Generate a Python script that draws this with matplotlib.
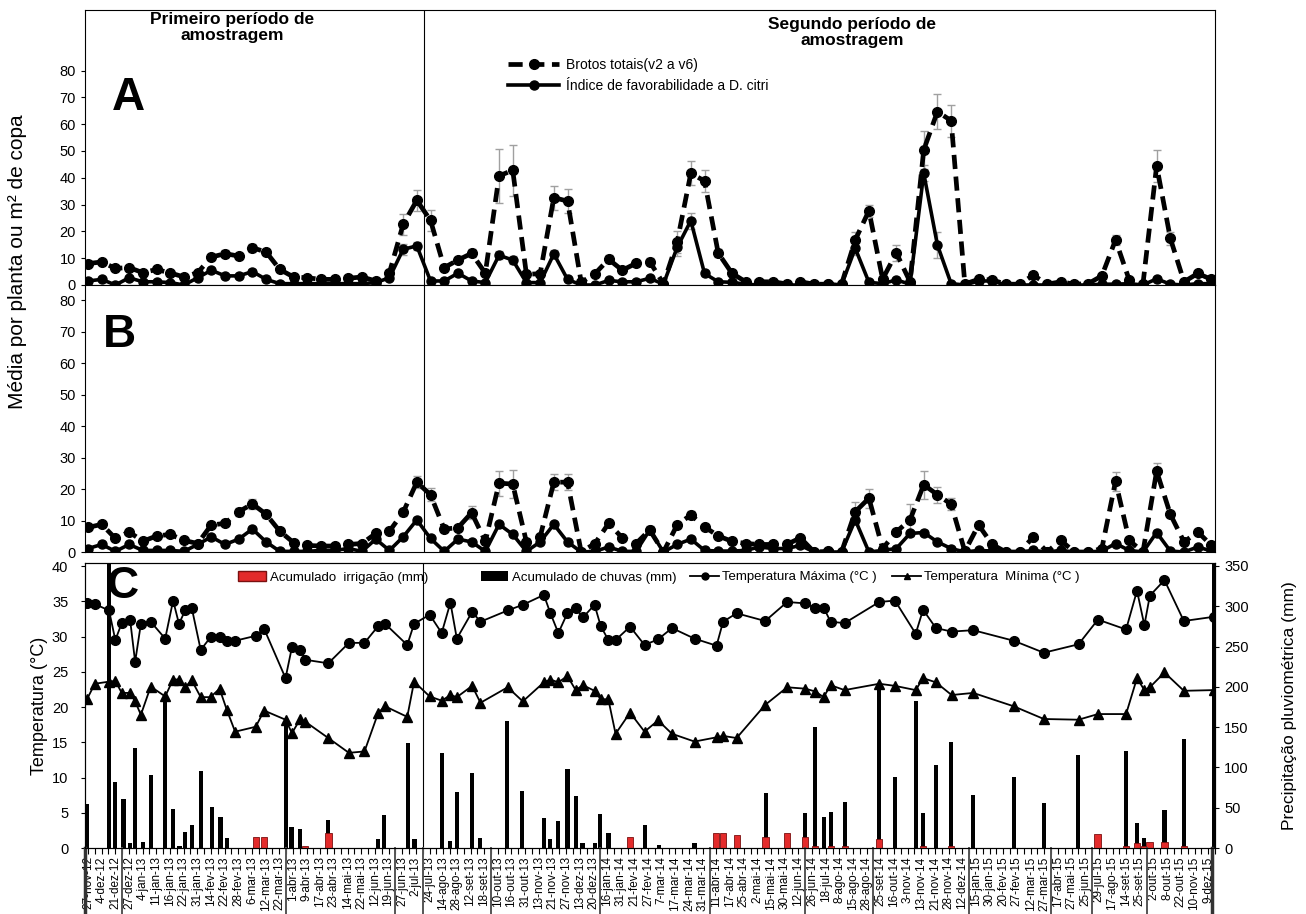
import matplotlib
matplotlib.use("Agg")
import matplotlib.pyplot as plt
import matplotlib.transforms as mtransforms
from matplotlib.patches import Patch
from matplotlib.lines import Line2D
import numpy as np

plt.rcParams['font.family'] = ['Liberation Sans', 'DejaVu Sans']

# Sampling dates (x axis labels)
dates = [
    "27-nov-12", "4-dez-12", "21-dez-12", "27-dez-12", "4-jan-13", "11-jan-13", "16-jan-13",
    "22-jan-13", "31-jan-13", "14-fev-13", "22-fev-13", "28-fev-13", "6-mar-13", "12-mar-13",
    "22-mar-13", "1-abr-13", "9-abr-13", "17-abr-13", "23-abr-13", "14-mai-13", "22-mai-13",
    "12-jun-13", "19-jun-13", "27-jun-13", "2-jul-13", "24-jul-13", "14-ago-13", "28-ago-13",
    "12-set-13", "18-set-13", "10-out-13", "16-out-13", "31-out-13", "13-nov-13", "21-nov-13",
    "27-nov-13", "13-dez-13", "20-dez-13", "16-jan-14", "31-jan-14", "21-fev-14", "27-fev-14",
    "7-mar-14", "17-mar-14", "24-mar-14", "31-mar-14", "11-abr-14", "17-abr-14", "25-abr-14",
    "2-mai-14", "15-mai-14", "30-mai-14", "12-jun-14", "26-jun-14", "18-jul-14", "8-ago-14",
    "15-ago-14", "28-ago-14", "25-set-14", "16-out-14", "3-nov-14", "13-nov-14", "21-nov-14",
    "28-nov-14", "12-dez-14", "15-jan-15", "30-jan-15", "20-fev-15", "27-fev-15", "12-mar-15",
    "27-mar-15", "17-abr-15", "27-mai-15", "25-jun-15", "29-jul-15", "17-ago-15", "14-set-15",
    "25-set-15", "2-out-15", "8-out-15", "22-out-15", "10-nov-15", "9-dez-15",
]

# Panel A
a_brotos = [8.0, 8.6, 6.2, 6.5, 4.6, 5.8, 4.5, 3.0, 4.6, 10.4,
            11.7, 10.8, 13.9, 12.3, 5.8, 3.0, 2.7, 2.1, 2.1, 2.5,
            3.0, 1.5, 4.6, 22.6, 31.6, 24.1, 6.5, 9.3, 11.8, 4.4,
            40.7, 42.8, 4.0, 4.2, 32.6, 31.3, 1.0, 4.2, 9.6, 5.5,
            8.1, 8.7, 0.5, 16.0, 41.7, 38.8, 11.9, 4.4, 1.2, 1.2,
            1.2, 0.4, 1.2, 0.3, 0.3, 0.3, 16.8, 27.7, 2.2, 12.0,
            1.2, 50.4, 64.7, 61.3, 0.4, 2.1, 1.9, 0.3, 0.3, 3.7,
            0.3, 1.2, 0.3, 0.5, 3.4, 16.8, 1.9, 0.3, 44.5, 17.4,
            1.2, 4.3, 2.1]
a_brotos_err = [0.8, 0.8, 0.6, 0.6, 0.6, 0.6, 0.5, 0.5, 0.6, 1.2,
                1.2, 1.2, 1.5, 1.2, 0.8, 0.5, 0.5, 0.5, 0.5, 0.5,
                0.5, 0.4, 1.0, 4.0, 4.0, 4.0, 1.0, 1.2, 1.5, 0.8,
                10.0, 9.5, 0.8, 0.8, 4.5, 4.5, 0.3, 0.8, 1.5, 0.8,
                1.0, 1.3, 0.2, 4.0, 4.5, 4.0, 1.5, 0.8, 0.4, 0.4,
                0.4, 0.2, 0.4, 0.2, 0.2, 0.2, 3.0, 2.3, 0.6, 3.0,
                0.4, 7.0, 6.5, 6.0, 0.2, 0.6, 0.6, 0.2, 0.2, 1.0,
                0.2, 0.4, 0.2, 0.2, 0.8, 2.0, 0.6, 0.2, 6.0, 2.5,
                0.4, 1.0, 0.6]
a_indice = [1.5, 2.1, 0.0, 2.7, 1.2, 1.2, 0.9, 0.0, 2.7, 5.5,
            3.4, 3.4, 5.0, 2.1, 0.5, 0.5, 0.5, 0.5, 0.5, 0.5,
            0.5, 0.9, 2.7, 13.3, 14.6, 1.5, 1.5, 4.4, 1.5, 0.9,
            11.1, 9.3, 0.9, 0.9, 11.6, 2.1, 0.0, 0.0, 1.7, 1.2,
            1.2, 2.5, 0.3, 14.0, 24.0, 4.3, 1.2, 1.0, 0.3, 0.0,
            0.0, 0.0, 0.0, 0.0, 0.5, 0.0, 13.7, 1.0, 0.5, 1.9,
            0.3, 41.7, 14.9, 0.5, 0.0, 1.5, 1.5, 0.0, 0.0, 0.0,
            0.0, 0.0, 0.0, 0.0, 0.3, 0.3, 0.5, 0.0, 2.3, 0.3,
            0.0, 0.5, 0.5]
a_indice_err = [0.4, 0.4, 0.1, 0.5, 0.3, 0.3, 0.3, 0.1, 0.5, 0.8,
                0.6, 0.6, 0.8, 0.5, 0.2, 0.2, 0.2, 0.2, 0.2, 0.2,
                0.2, 0.3, 0.5, 2.0, 1.5, 0.4, 0.4, 0.8, 0.4, 0.3,
                1.5, 1.5, 0.3, 0.3, 1.5, 0.5, 0.1, 0.1, 0.4, 0.3,
                0.3, 0.5, 0.1, 3.0, 3.0, 0.8, 0.3, 0.3, 0.1, 0.1,
                0.1, 0.1, 0.1, 0.1, 0.2, 0.1, 2.5, 0.3, 0.2, 0.5,
                0.1, 3.0, 5.0, 0.2, 0.1, 0.4, 0.4, 0.1, 0.1, 0.1,
                0.1, 0.1, 0.1, 0.1, 0.1, 0.1, 0.2, 0.1, 0.6, 0.1,
                0.1, 0.2, 0.2]

# Panel B
b_brotos = [7.8, 8.8, 4.3, 6.4, 3.4, 5.1, 5.6, 3.7, 2.7, 8.6,
            9.1, 12.8, 15.3, 12.0, 6.6, 3.0, 2.1, 1.9, 1.9, 2.4,
            2.7, 5.9, 6.6, 12.6, 22.2, 18.2, 7.3, 7.7, 12.5, 3.4,
            21.9, 21.6, 3.2, 4.8, 22.2, 22.2, 0.0, 2.7, 9.1, 4.5,
            2.7, 7.0, 0.0, 8.6, 11.8, 8.0, 5.1, 3.4, 2.7, 2.4,
            2.4, 2.4, 4.5, 0.0, 0.2, 0.0, 12.8, 17.1, 1.1, 6.4,
            10.2, 21.4, 18.2, 15.2, 0.2, 8.6, 2.4, 0.0, 0.0, 4.8,
            0.0, 3.7, 0.0, 0.0, 1.1, 22.5, 3.7, 0.0, 25.7, 12.0,
            3.2, 6.4, 2.1]
b_brotos_err = [0.8, 0.8, 0.5, 0.6, 0.4, 0.5, 0.5, 0.4, 0.4, 0.8,
                0.8, 1.2, 1.5, 1.2, 0.6, 0.4, 0.3, 0.3, 0.3, 0.3,
                0.4, 0.6, 0.6, 1.2, 2.0, 2.0, 0.8, 0.8, 2.0, 0.5,
                4.0, 4.5, 0.5, 0.6, 2.5, 2.5, 0.1, 0.4, 1.2, 0.6,
                0.4, 1.2, 0.1, 1.0, 1.2, 1.0, 0.6, 0.4, 0.3, 0.3,
                0.3, 0.3, 0.6, 0.1, 0.1, 0.1, 3.0, 3.0, 0.3, 1.0,
                5.0, 4.5, 2.5, 2.0, 0.1, 0.8, 0.4, 0.1, 0.1, 0.6,
                0.1, 0.6, 0.1, 0.1, 0.3, 3.0, 0.6, 0.1, 2.5, 1.0,
                0.4, 0.8, 0.4]
b_indice = [1.1, 2.4, 0.2, 2.4, 0.5, 0.5, 0.5, 0.2, 2.4, 4.8,
            2.4, 4.1, 7.3, 3.2, 0.2, 0.2, 0.2, 0.5, 0.5, 1.1,
            0.2, 4.1, 0.5, 4.8, 10.2, 4.3, 0.2, 4.1, 3.2, 0.2,
            8.8, 5.6, 0.2, 3.2, 8.8, 3.2, 0.0, 0.2, 1.6, 0.2,
            0.2, 7.0, 0.0, 2.4, 4.1, 0.5, 0.3, 0.3, 0.5, 1.6,
            1.1, 1.1, 2.1, 0.0, 0.0, 0.0, 10.2, 0.0, 0.5, 1.1,
            5.9, 6.2, 3.2, 1.1, 0.0, 0.5, 0.3, 0.0, 0.0, 0.5,
            0.0, 0.5, 0.0, 0.0, 0.3, 2.7, 0.5, 0.0, 6.2, 0.3,
            0.0, 1.6, 0.3]
b_indice_err = [0.3, 0.4, 0.1, 0.4, 0.2, 0.2, 0.2, 0.1, 0.4, 0.6,
                0.4, 0.6, 0.8, 0.5, 0.1, 0.1, 0.1, 0.2, 0.2, 0.3,
                0.1, 0.6, 0.2, 0.6, 1.0, 0.6, 0.1, 0.6, 0.5, 0.1,
                0.8, 0.6, 0.1, 0.5, 0.8, 0.5, 0.0, 0.1, 0.3, 0.1,
                0.1, 0.8, 0.0, 0.4, 0.6, 0.2, 0.1, 0.1, 0.2, 0.3,
                0.3, 0.3, 0.4, 0.0, 0.0, 0.0, 1.2, 0.0, 0.2, 0.3,
                0.8, 0.8, 0.5, 0.3, 0.0, 0.2, 0.1, 0.0, 0.0, 0.2,
                0.0, 0.2, 0.0, 0.0, 0.1, 0.5, 0.2, 0.0, 0.8, 0.1,
                0.0, 0.3, 0.1]

# Panel C (position on the date axis, in label units)
temp_pos = [-0.05, 0.5, 1.54, 2.0, 2.47, 3.08, 3.45, 3.87, 4.59, 5.65,
            6.23, 6.66, 7.11, 7.59, 8.25, 8.97, 9.63, 10.16, 10.77, 12.28,
            12.89, 14.46, 14.93, 15.54, 15.92, 17.59, 19.1, 20.24, 21.25, 21.75,
            23.37, 23.87, 25.01, 25.89, 26.53, 27.0, 28.12, 28.73, 30.72, 31.83,
            33.37, 33.85, 34.43, 35.09, 35.7, 36.23, 37.08, 37.53, 38.09, 38.62,
            39.68, 40.74, 41.73, 42.75, 44.4, 46.01, 46.49, 47.48, 49.57, 51.18,
            52.52, 53.24, 53.85, 54.36, 55.38, 57.92, 59.07, 60.59, 61.13, 62.07,
            63.22, 64.8, 67.77, 69.97, 72.51, 73.93, 75.99, 76.79, 77.33, 77.73,
            78.8, 80.22, 82.41]
t_max = [34.7, 34.6, 33.7, 29.5, 31.9, 32.4, 26.4, 31.8, 32.1, 29.7,
         35.1, 31.8, 33.7, 34.1, 28.1, 29.9, 30.0, 29.3, 29.4, 30.1,
         31.1, 24.1, 28.5, 28.1, 26.7, 26.2, 29.1, 29.1, 31.5, 31.8,
         28.8, 31.8, 33.1, 30.5, 34.8, 29.7, 33.5, 32.1, 33.7, 34.5,
         35.9, 33.3, 30.5, 33.3, 34.0, 32.7, 34.5, 31.5, 29.5, 29.5,
         31.4, 28.8, 29.6, 31.2, 29.7, 28.7, 32.1, 33.3, 32.2, 34.9,
         34.7, 34.0, 34.1, 32.1, 31.9, 34.9, 35.1, 30.4, 33.8, 31.2,
         30.7, 30.9, 29.4, 27.7, 28.9, 32.4, 31.0, 36.5, 31.6, 35.8,
         38.0, 32.2, 32.8]
t_min = [21.2, 23.3, 23.6, 23.7, 22.0, 22.0, 20.8, 18.9, 22.9, 21.5,
         23.9, 23.9, 22.8, 23.8, 21.4, 21.4, 22.6, 19.6, 16.5, 17.2,
         19.5, 18.2, 16.3, 18.3, 17.9, 15.6, 13.5, 13.7, 19.2, 20.1,
         18.6, 23.6, 21.5, 20.9, 21.7, 21.4, 23.0, 20.6, 22.8, 20.8,
         23.5, 23.9, 23.5, 24.4, 22.4, 23.1, 22.3, 21.1, 21.1, 16.2,
         19.2, 16.5, 18.1, 16.2, 15.1, 15.7, 15.9, 15.6, 20.3, 22.8,
         22.6, 22.2, 21.4, 23.1, 22.4, 23.3, 23.0, 22.4, 24.1, 23.5,
         21.7, 22.0, 20.1, 18.3, 18.2, 19.0, 19.0, 24.1, 22.4, 22.8,
         24.9, 22.3, 22.4]

rain_pos = [-0.05, 1.54, 2.0, 2.6, 3.1, 3.45, 4.0, 4.6, 5.65, 6.2,
            6.7, 7.1, 7.6, 8.25, 9.1, 9.7, 10.2, 14.5, 14.9, 15.5,
            17.6, 21.2, 21.7, 23.4, 23.9, 25.9, 26.5, 27.0, 28.1, 28.7,
            30.7, 31.8, 33.4, 33.8, 34.4, 35.1, 35.7, 36.2, 37.1, 37.5,
            38.1, 40.75, 41.8, 44.4, 49.6, 52.5, 53.2, 53.9, 54.4, 55.4,
            57.9, 59.1, 60.6, 61.1, 62.1, 63.2, 64.8, 67.8, 70.0, 72.5,
            76.0, 76.8, 77.3, 78.8, 80.2, 82.4]
rain_mm = [55, 360, 82, 61, 6, 124, 8, 91, 182, 49,
           2, 20, 28, 95, 51, 39, 13, 153, 26, 24,
           35, 11, 41, 130, 11, 118, 9, 69, 93, 13,
           158, 71, 37, 11, 34, 98, 64, 6, 6, 42,
           18, 29, 4, 6, 68, 43, 150, 39, 45, 57,
           204, 88, 183, 44, 103, 132, 66, 88, 56, 116,
           120, 31, 12, 47, 135, 360]
irr_pos = [12.3, 12.9, 15.9, 17.6, 39.7, 46.0, 46.5, 47.5, 49.6, 51.2,
           52.5, 53.2, 54.4, 55.4, 57.9, 61.1, 63.2, 73.9, 76.0, 76.8,
           77.3, 77.7, 78.8, 80.2]
irr_mm = [14, 14, 2, 18, 14, 19, 19, 16, 14, 19,
          14, 2, 2, 3, 11, 3, 2, 17, 2, 6,
          3, 8, 7, 2]

# season separators below the axis (between labels)
separators = [2.5, 14.5, 22.5, 24.5, 29.5, 37.5, 45.5, 52.5, 57.5, 64.5, 70.5, 73.5, 77.5]
period_split = 24.5

x = np.arange(len(dates))
xlim = (-0.22, 82.26)

W, H = 1306, 914
fig = plt.figure(figsize=(W / 100, H / 100), dpi=100)


def box(l, t, r, b):
    return [l / W, 1 - b / H, (r - l) / W, (b - t) / H]


ax_a = fig.add_axes(box(85, 10, 1215, 285))
ax_b = fig.add_axes(box(85, 285, 1215, 552))
ax_c = fig.add_axes(box(85, 563, 1215, 848))
ax_r = ax_c.twinx()

dash = (0, (3.0, 1.6))


def draw_pair(ax, brotos, brotos_err, indice, indice_err):
    ax.errorbar(x, brotos, yerr=brotos_err, fmt='none', ecolor='#a0a0a0',
                elinewidth=1, capsize=3, capthick=1, zorder=1)
    ax.errorbar(x, indice, yerr=indice_err, fmt='none', ecolor='#a0a0a0',
                elinewidth=1, capsize=3, capthick=1, zorder=1)
    l1, = ax.plot(x, brotos, color='black', lw=3.4, ls=dash, marker='o', ms=7,
                  zorder=3, label='Brotos totais(v2 a v6)')
    l2, = ax.plot(x, indice, color='black', lw=2.6, marker='o', ms=6.5,
                  zorder=3, label='Índice de favorabilidade a D. citri')
    ax.set_xlim(*xlim)
    ax.set_xticks([])
    ax.axvline(period_split, color='black', lw=0.8, zorder=0)
    ax.set_yticks(range(0, 81, 10))
    ax.tick_params(axis='y', labelsize=10.5, length=3, width=0.8)
    for s in ax.spines.values():
        s.set_linewidth(0.8)
    return l1, l2


l1, l2 = draw_pair(ax_a, a_brotos, a_brotos_err, a_indice, a_indice_err)
ax_a.set_ylim(0, 102.6)
ax_a.legend(handles=[l1, l2], loc='upper left',
            bbox_to_anchor=((508 - 85) / 1130, (285 - 58) / 275),
            frameon=False, fontsize=10, handlelength=3.7, handletextpad=0.5,
            labelspacing=0.5, borderaxespad=0, borderpad=0)

draw_pair(ax_b, b_brotos, b_brotos_err, b_indice, b_indice_err)
ax_b.set_ylim(0, 84.9)

# Panel C
ax_r.bar(rain_pos, rain_mm, width=0.3, color='black', zorder=2)
ax_r.bar(irr_pos, irr_mm, width=0.45, color='#e32b2b', edgecolor='#7a1010',
         linewidth=0.6, zorder=3)
ax_r.set_ylim(0, 353.7)
ax_r.set_yticks(range(0, 351, 50))
ax_r.tick_params(axis='y', labelsize=10.5, length=3, width=0.8)
ax_r.set_ylabel('Precipitação pluviométrica (mm)', fontsize=12.5, labelpad=24)

ax_c.set_zorder(ax_r.get_zorder() + 1)
ax_c.patch.set_visible(False)
ax_c.plot(temp_pos, t_max, color='black', lw=1.3, marker='o', ms=7, zorder=4)
ax_c.plot(temp_pos, t_min, color='black', lw=1.3, marker='^', ms=6.5, zorder=4)
ax_c.axvline(period_split, color='black', lw=0.8, zorder=0)
ax_c.set_xlim(*xlim)
ax_c.set_ylim(0, 40.43)
ax_c.set_yticks(range(0, 41, 5))
ax_c.tick_params(axis='y', labelsize=10.5, length=3, width=0.8, pad=9)
ax_c.set_xticks(x)
ax_c.set_xticklabels(dates, rotation=90, fontsize=8.5)
ax_c.set_xticks(x + 0.5, minor=True)
ax_c.tick_params(axis='x', which='both', length=4, width=0.8, pad=2)
ax_c.set_ylabel('Temperatura (°C)', fontsize=13, labelpad=3)
for axx in (ax_c, ax_r):
    for s in axx.spines.values():
        s.set_linewidth(0.8)

bar_handles = [
    Patch(facecolor='#e32b2b', edgecolor='#7a1010', label='Acumulado  irrigação (mm)'),
    Patch(facecolor='black', label='Acumulado de chuvas (mm)'),
]
temp_handles = [
    Line2D([], [], color='black', lw=1.3, marker='o', ms=5, label='Temperatura Máxima (°C )'),
    Line2D([], [], color='black', lw=1.3, marker='^', ms=5, label='Temperatura  Mínima (°C )'),
]
leg1 = ax_c.legend(handles=bar_handles, loc='upper left', ncol=2,
                   bbox_to_anchor=((238 - 85) / 1130, (848 - 571) / 285),
                   frameon=False, fontsize=9.5, handlelength=2.1, handleheight=0.8,
                   handletextpad=0.3, columnspacing=4.0, borderaxespad=0, borderpad=0)
ax_c.add_artist(leg1)
ax_c.legend(handles=temp_handles, loc='upper left', ncol=2,
            bbox_to_anchor=((690 - 85) / 1130, (848 - 571) / 285),
            frameon=False, fontsize=9.5, handlelength=2.2,
            handletextpad=0.2, columnspacing=1.2, borderaxespad=0, borderpad=0)

# separators in the date label area
trans = mtransforms.blended_transform_factory(ax_c.transData, fig.transFigure)
for p in separators:
    ax_c.plot([p, p], [0, 1 - 848 / H], color='#555555', lw=1.4,
              transform=trans, clip_on=False)
for p in xlim:
    ax_c.plot([p, p], [0, 1 - 848 / H], color='#333333', lw=2.5,
              transform=trans, clip_on=False)

# panel letters
ax_a.text(0.024, 0.6, 'A', transform=ax_a.transAxes, fontsize=33,
          fontweight='bold', va='bottom')
ax_b.text(0.016, 0.73, 'B', transform=ax_b.transAxes, fontsize=33,
          fontweight='bold', va='bottom')
ax_c.text(0.019, 0.845, 'C', transform=ax_c.transAxes, fontsize=32,
          fontweight='bold', va='bottom')

# period headers
fig.text(232 / W, 1 - 12 / H, 'Primeiro período de\namostragem', ha='center',
         va='top', fontsize=12.5, fontweight='bold', linespacing=1.1)
fig.text(852 / W, 1 - 17 / H, 'Segundo período de\namostragem', ha='center',
         va='top', fontsize=12.5, fontweight='bold', linespacing=1.1)

fig.text(18 / W, 1 - 262 / H, 'Média por planta ou m² de copa', rotation=90,
         ha='center', va='center', fontsize=15)

fig.savefig('out.png', dpi=100)
